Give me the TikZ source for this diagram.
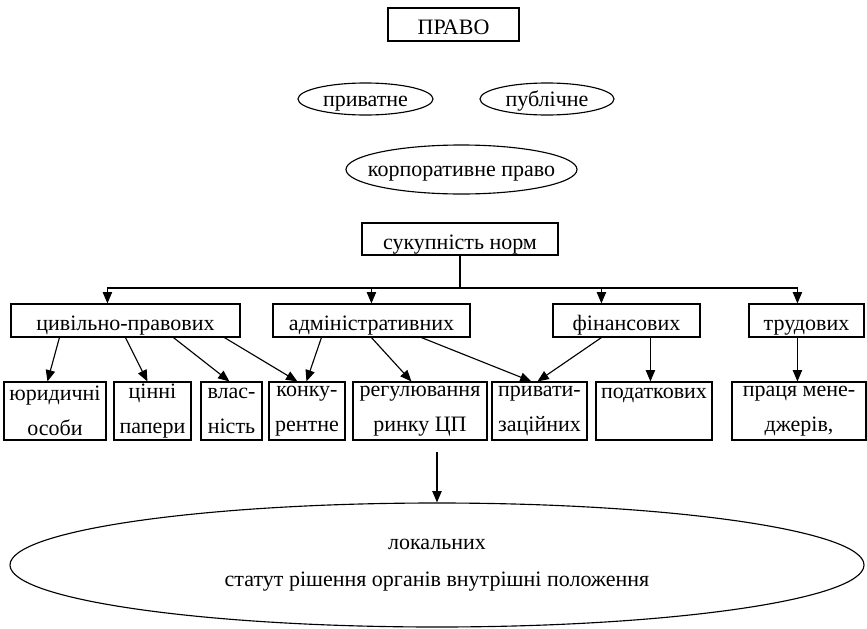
\documentclass[tikz,border=0pt]{standalone}
\usepackage{fontspec}
\setmainfont{Liberation Serif}
\usetikzlibrary{arrows.meta,calc,shapes.geometric}
\newlength\px
\setlength\px{0.75pt}
\tikzset{
  box/.style={draw, rectangle, inner sep=0pt, text height=15.5pt, text depth=0pt},
  cell/.style={draw, rectangle, inner sep=0pt, align=center, minimum height=58\px, font=\fontsize{16.5}{26.25}\selectfont},
  oval/.style={draw, ellipse, inner xsep=-12pt, inner ysep=0pt, text height=11.5pt, text depth=0.5pt},
}
\begin{document}
\begin{tikzpicture}[x=1\px, y=-1\px, line width=0.85pt, font=\fontsize{16.5}{19.8}\selectfont, >={Triangle[length=8.5pt,width=7pt]}]
\useasboundingbox (0,0) rectangle (867,628);
\node [box, minimum width=131\px, minimum height=33\px] (pravo) at (453.5,24.5) {ПРАВО};
\node [oval, minimum width=135\px, minimum height=32\px] (pryv) at (365.5,99) {приватне};
\node [oval, minimum width=134\px, minimum height=32\px] (publ) at (547,99) {публічне};
\node [oval, minimum width=231\px, minimum height=49\px] (korp) at (461.5,169.5) {корпоративне право};
\node [box, minimum width=196\px, minimum height=32\px] (norm) at (460,239) {сукупність норм};
%
\node [box, minimum width=229\px, minimum height=33\px] (civ) at (125.5,320.5) {цивільно-правових};
\node [box, minimum width=197\px, minimum height=33\px] (adm) at (371.5,320.5) {адміністративних};
\node [box, minimum width=147\px, minimum height=33\px] (fin) at (626.5,320.5) {фінансових};
\node [box, minimum width=115\px, minimum height=33\px] (trud) at (806.5,320.5) {трудових};
%
\node [cell, minimum width=102\px] (jur) at (55,411) {юридичні\\особи};
\node [cell, minimum width=77\px] (cin) at (152.5,411) {цінні\\папери};
\node [cell, minimum width=61\px] (vlas) at (231.5,411) {влас-\\ність};
\node [cell, minimum width=76\px] (konk) at (307,411) {конку-\\рентне};
\node [cell, minimum width=134\px] (reg) at (420,411) {регулювання\\ринку ЦП};
\node [cell, minimum width=95\px] (pryvat) at (539.5,411) {привати-\\заційних};
\node [cell, minimum width=116\px] (podat) at (654,411) {податкових\\\mbox{}};
\node [cell, minimum width=134\px] (praca) at (799,411) {праця мене-\\джерів,};
%
\node [draw, ellipse, inner sep=0pt, minimum width=854\px, minimum height=124\px, align=center, font=\fontsize{16.5}{27.75}\selectfont] (lok) at (437,565) {локальних\\статут рішення органів внутрішні положення};
%
\coordinate (bus) at (460,288);
\coordinate (lokin) at (437,452);
\draw (norm) -- (bus);
\draw [->] (bus) -| ($(civ.north west)+(97,0)$);
\draw [->] (bus) -| ($(adm.north west)+(99,0)$);
\draw [->] (bus) -| ($(fin.north west)+(49,0)$);
\draw [->] (bus) -| ($(trud.north west)+(49,0)$);
\draw [->] ($(civ.south west)+(49,0)$) -- ($(jur.north west)+(44,0)$);
\draw [->] ($(civ.south west)+(115,0)$) -- ($(cin.north west)+(34,0)$);
\draw [->] ($(civ.south west)+(163,0)$) -- ($(vlas.north west)+(29,0)$);
\draw [->] ($(civ.south west)+(214,0)$) -- ($(konk.north west)+(29,0)$);
\draw [->] ($(adm.south west)+(49,0)$) -- ($(konk.north west)+(38,0)$);
\draw [->] ($(adm.south west)+(99,0)$) -- ($(reg.north west)+(59,0)$);
\draw [->] ($(adm.south west)+(149,0)$) -- ($(pryvat.north west)+(40,0)$);
\draw [->] ($(fin.south west)+(49,0)$) -- ($(pryvat.north west)+(46,0)$);
\draw [->] ($(fin.south west)+(98,0)$) -- ($(podat.north west)+(55,0)$);
\draw [->] ($(trud.south west)+(49,0)$) -- ($(praca.north west)+(66,0)$);
\draw [->] (lokin) -- (lok);
\end{tikzpicture}
\end{document}
